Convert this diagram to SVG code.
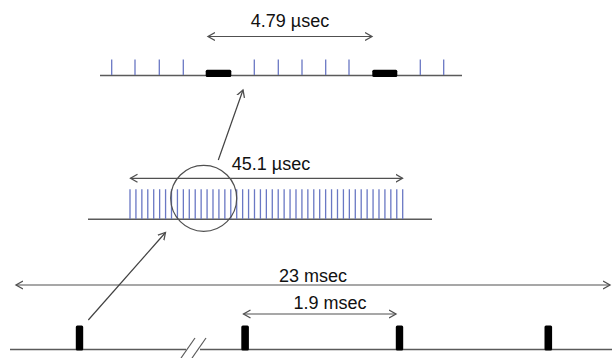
<svg xmlns="http://www.w3.org/2000/svg" width="612" height="358" viewBox="0 0 612 358">
<style>
.base{stroke:#5a5a5a;stroke-width:1.5;fill:none}
.tick{stroke:#6a78c4;stroke-width:1.3;fill:none}
.blk{fill:#000}
.dim{stroke:#505050;stroke-width:1.2;fill:none;marker-start:url(#ah);marker-end:url(#ah)}
.ptr{stroke:#404040;stroke-width:1.2;fill:none;marker-end:url(#ah)}
.lbl{font-family:"Liberation Sans",Arial,sans-serif;font-size:18px;fill:#111;text-anchor:middle}
</style>
<defs>
<marker id="ah" markerUnits="userSpaceOnUse" markerWidth="12" markerHeight="12" refX="7" refY="4" orient="auto-start-reverse" viewBox="0 0 12 8">
<path d="M0,0 L7,4 L0,8" fill="none" stroke="#505050" stroke-width="1.3"/>
</marker>
</defs>
<g id="top-row">
<line class="base" x1="100" y1="75.5" x2="462" y2="75.5"/>
<path class="tick" d="M111.7,59.5V75M135,59.5V75M159.3,59.5V75M183.3,59.5V75M254.3,59.5V75M278.3,59.5V75M302,59.5V75M325.7,59.5V75M349,59.5V75M420.3,59.5V75M443.7,59.5V75"/>
<rect class="blk" x="205.7" y="69.7" width="25.6" height="7.3" rx="1.5"/>
<rect class="blk" x="372.3" y="69.7" width="25" height="7.3" rx="1.5"/>
</g>
<g id="middle-row">
<line class="base" x1="88" y1="219.3" x2="432" y2="219.3"/>
<path class="tick" d="M130,189.3V219M135.93,189.3V219M141.86,189.3V219M147.78,189.3V219M153.71,189.3V219M159.64,189.3V219M165.57,189.3V219M171.5,189.3V219M177.43,189.3V219M183.35,189.3V219M189.28,189.3V219M195.21,189.3V219M201.14,189.3V219M207.07,189.3V219M212.99,189.3V219M218.92,189.3V219M224.85,189.3V219M230.78,189.3V219M236.71,189.3V219M242.64,189.3V219M248.57,189.3V219M254.49,189.3V219M260.42,189.3V219M266.35,189.3V219M272.28,189.3V219M278.21,189.3V219M284.13,189.3V219M290.06,189.3V219M295.99,189.3V219M301.92,189.3V219M307.85,189.3V219M313.78,189.3V219M319.7,189.3V219M325.63,189.3V219M331.56,189.3V219M337.49,189.3V219M343.42,189.3V219M349.35,189.3V219M355.28,189.3V219M361.2,189.3V219M367.13,189.3V219M373.06,189.3V219M378.99,189.3V219M384.92,189.3V219M390.84,189.3V219M396.77,189.3V219M402.7,189.3V219"/>
</g>
<g id="zoom-circle">
<circle cx="203.7" cy="198.3" r="33" fill="none" stroke="#505050" stroke-width="1.2"/>
</g>
<g id="bottom-row">
<line class="base" x1="10" y1="349.5" x2="186" y2="349.5"/>
<line class="base" x1="200" y1="349.5" x2="612" y2="349.5"/>
<line stroke="#5a5a5a" stroke-width="1.2" x1="181" y1="358" x2="195" y2="338"/>
<line stroke="#5a5a5a" stroke-width="1.2" x1="192" y1="358" x2="206" y2="338"/>
<rect class="blk" x="75.8" y="325.5" width="7.4" height="25" rx="1.5"/>
<rect class="blk" x="241.3" y="325.5" width="7.6" height="25" rx="1.5"/>
<rect class="blk" x="395.8" y="325.5" width="7.4" height="25" rx="1.5"/>
<rect class="blk" x="544.5" y="325.5" width="7.6" height="25" rx="1.5"/>
</g>
<g id="connectors">
<line class="dim" x1="208" y1="36.5" x2="372" y2="36.5"/>
<line class="dim" x1="130.5" y1="178.3" x2="402.5" y2="178.3"/>
<line class="dim" x1="16" y1="285" x2="610" y2="285"/>
<line class="dim" x1="243.5" y1="314" x2="396" y2="314"/>
<line class="ptr" x1="218.3" y1="160" x2="243" y2="90"/>
<line class="ptr" x1="88.3" y1="320" x2="165.5" y2="232.5"/>
</g>
<g id="labels">
<text class="lbl" x="290" y="26.7">4.79 µsec</text>
<text class="lbl" x="271" y="170">45.1 µsec</text>
<text class="lbl" x="313" y="282">23 msec</text>
<text class="lbl" x="330" y="309">1.9 msec</text>
</g>
</svg>
